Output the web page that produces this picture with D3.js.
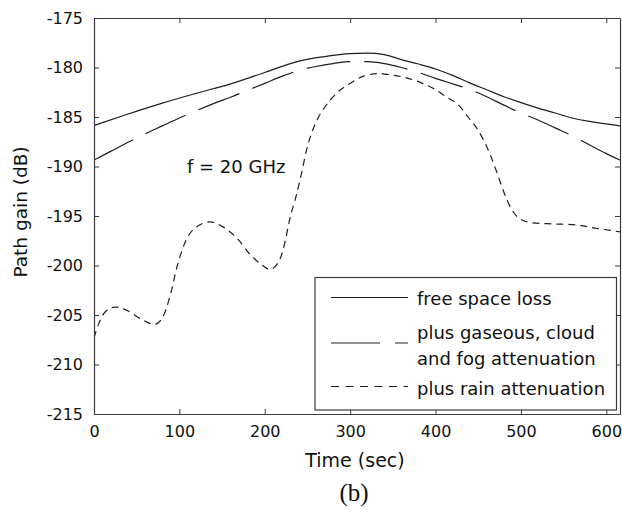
<!DOCTYPE html>
<html>
<head>
<meta charset="utf-8">
<script src="https://cdn.jsdelivr.net/npm/d3@7"></script>
<style>
  html, body { margin: 0; padding: 0; background: #fff; }
  svg { display: block; }
</style>
</head>
<body>
<svg id="chart" width="622" height="510"></svg>
<script>
// ---- data ----
const xTicks = [0, 100, 200, 300, 400, 500, 600];
const yTicks = [-215, -210, -205, -200, -195, -190, -185, -180, -175];

const freeSpaceTime = [0, 40, 80, 120, 160, 200, 240, 270, 300, 320, 340, 360, 380, 400, 420, 440, 460, 480, 500, 520, 540, 560, 580, 600, 616];
const freeSpaceGain = [-185.85, -184.7, -183.6, -182.6, -181.65, -180.5, -179.35, -178.9, -178.6, -178.55, -178.7, -179.2, -179.65, -180.15, -180.8, -181.55, -182.25, -182.95, -183.55, -184.1, -184.6, -185.1, -185.45, -185.7, -185.9];

const gaseousTime = [0, 20, 40, 60, 80, 100, 120, 140, 160, 180, 200, 220, 240, 260, 280, 300, 320, 340, 360, 380, 400, 420, 440, 460, 480, 500, 520, 540, 560, 580, 600, 616];
const gaseousGain = [-189.35, -188.45, -187.55, -186.7, -185.9, -185.1, -184.35, -183.65, -183.0, -182.3, -181.6, -180.9, -180.3, -179.9, -179.6, -179.4, -179.4, -179.6, -180.0, -180.5, -181.1, -181.65, -182.2, -182.95, -183.8, -184.6, -185.3, -186.1, -186.9, -187.8, -188.7, -189.35];

const rainTime = [0, 5, 12, 25, 40, 55, 71, 80, 89, 97, 108, 120, 136, 151, 167, 183, 196, 206, 218, 224, 229, 237, 243, 249, 255, 263, 272, 284, 300, 315, 335, 343, 364, 382, 397, 413, 427, 438, 448, 456, 464, 471, 480, 487, 499, 514, 538, 565, 585, 608, 616];
const rainGain = [-207.3, -206.0, -204.8, -204.2, -204.6, -205.4, -205.95, -205.3, -203.1, -200.2, -197.4, -196.1, -195.6, -196.1, -197.2, -198.9, -199.9, -200.4, -199.3, -197.5, -195.4, -192.9, -190.7, -188.3, -186.6, -185.0, -183.8, -182.6, -181.6, -180.9, -180.6, -180.7, -181.0, -181.5, -182.1, -183.0, -183.8, -185.0, -186.1, -187.3, -188.8, -190.4, -192.6, -194.0, -195.3, -195.7, -195.8, -195.9, -196.2, -196.5, -196.6];

const seriesNames = ["free space loss", "plus gaseous, cloud|and fog attenuation", "plus rain attenuation"];
const xLabel = "Time (sec)";
const yLabel = "Path gain (dB)";
const annotation = "f = 20 GHz";
const caption = "(b)";

// ---- layout ----
const svg = d3.select("#chart");
const L = 94, R = 620, T = 18, B = 414;
const x = d3.scaleLinear().domain([0, 616]).range([L, R]);
const y = d3.scaleLinear().domain([-215, -175]).range([B, T]);

const lineColor = "#1e1e1e";
const axisColor = "#3a3a3a";
const font = "'DejaVu Sans', sans-serif";

const styles = [
  { dash: null },
  { dash: "44,14" },
  { dash: "7,5" }
];
const legendDash = [null, "49,15", "8,6.5"];

const series = [
  freeSpaceTime.map((t, i) => [t, freeSpaceGain[i]]),
  gaseousTime.map((t, i) => [t, gaseousGain[i]]),
  rainTime.map((t, i) => [t, rainGain[i]])
];

const line = d3.line().x(d => x(d[0])).y(d => y(d[1])).curve(d3.curveMonotoneX);

// curves
svg.append("clipPath").attr("id", "clip").append("rect")
  .attr("x", L).attr("y", T).attr("width", R - L).attr("height", B - T);

svg.append("g").attr("clip-path", "url(#clip)")
  .selectAll("path").data(series).join("path")
  .attr("d", line)
  .attr("fill", "none")
  .attr("stroke", lineColor)
  .attr("stroke-width", 1.2)
  .attr("stroke-dasharray", (d, i) => styles[i].dash);

// axes with inward ticks on all four sides
const tickLen = 5;
const fmt = d => String(d);
const axB = d3.axisBottom(x).tickValues(xTicks).tickFormat(fmt).tickSizeInner(-tickLen).tickSizeOuter(0).tickPadding(12);
const axT = d3.axisTop(x).tickValues(xTicks).tickSizeInner(-tickLen).tickSizeOuter(0).tickFormat("");
const axLf = d3.axisLeft(y).tickValues(yTicks).tickFormat(fmt).tickSizeInner(-tickLen).tickSizeOuter(0).tickPadding(11);
const axRt = d3.axisRight(y).tickValues(yTicks).tickSizeInner(-tickLen).tickSizeOuter(0).tickFormat("");

function styleAxis(g) {
  g.select(".domain").attr("stroke", axisColor).attr("stroke-width", 1.2);
  g.selectAll(".tick line").attr("stroke", axisColor).attr("stroke-width", 1);
  g.selectAll(".tick text").attr("fill", "#111").attr("font-family", font).attr("font-size", 16);
}
svg.append("g").attr("transform", `translate(0,${B})`).call(axB).call(styleAxis);
svg.append("g").attr("transform", `translate(0,${T})`).call(axT).call(styleAxis);
svg.append("g").attr("transform", `translate(${L},0)`).call(axLf).call(styleAxis);
svg.append("g").attr("transform", `translate(${R},0)`).call(axRt).call(styleAxis);

// labels
svg.append("text").attr("x", 355).attr("y", 467).attr("text-anchor", "middle")
  .attr("font-family", font).attr("font-size", 19).attr("fill", "#111").text(xLabel);
svg.append("text").attr("transform", "translate(27,212) rotate(-90)").attr("text-anchor", "middle")
  .attr("font-family", font).attr("font-size", 18.5).attr("fill", "#111").text(yLabel);
svg.append("text").attr("x", 354).attr("y", 501).attr("text-anchor", "middle")
  .attr("font-family", "'Liberation Serif', serif").attr("font-size", 25).attr("fill", "#111").text(caption);
svg.append("text").attr("x", 187).attr("y", 173).attr("font-family", font)
  .attr("font-size", 18).attr("fill", "#111").text(annotation);

// legend
const lg = svg.append("g");
lg.append("rect").attr("x", 315).attr("y", 277.5).attr("width", 301.5).attr("height", 132.5)
  .attr("fill", "#fff").attr("stroke", axisColor).attr("stroke-width", 1.2);
const rowLineY = [297.5, 343, 386.5];
const rowTextY = [[304.5], [339, 365], [394.5]];
seriesNames.forEach((name, i) => {
  lg.append("line").attr("x1", 331).attr("x2", 408).attr("y1", rowLineY[i]).attr("y2", rowLineY[i])
    .attr("stroke", lineColor).attr("stroke-width", 1.2).attr("stroke-dasharray", legendDash[i]);
  name.split("|").forEach((part, j) => {
    lg.append("text").attr("x", 417).attr("y", rowTextY[i][j])
      .attr("font-family", font).attr("font-size", 18).attr("fill", "#111").text(part);
  });
});
</script>
</body>
</html>
